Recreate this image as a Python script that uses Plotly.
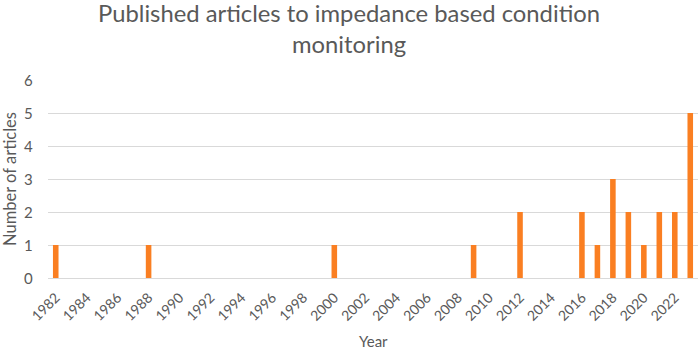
import plotly.graph_objects as go

years = list(range(1982, 2024))
counts_by_year = {1982: 1, 1988: 1, 2000: 1, 2009: 1, 2012: 2, 2016: 2, 2017: 1,
                  2018: 3, 2019: 2, 2020: 1, 2021: 2, 2022: 2, 2023: 5}
articles = [counts_by_year.get(y, 0) for y in years]
tick_years = list(range(1982, 2024, 2))
tick_labels = [str(y) for y in tick_years]
y_ticks = [0, 1, 2, 3, 4, 5, 6]

TXT = "#595959"
FONT = "Lato"
GRID = "#D9D9D9"
CLEAR = "rgba(0,0,0,0)"

fig = go.Figure(go.Bar(x=years, y=articles, width=0.36,
                       marker_color="#FA7F22", marker_line_width=0))

W, L, R, T, B, H = 699, 48, 1, 80, 73, 351
ph = H - T - B
pw = W - L - R

def py(pix):
    return (H - B - pix) / ph

def px(pix):
    return (pix - L) / pw

annotations = [
    dict(text="Published articles to impedance based condition", xref="paper", yref="paper",
         x=px(349), y=py(13), xanchor="center", yanchor="middle", showarrow=False,
         font=dict(size=23.8, color=TXT, family=FONT)),
    dict(text="monitoring", xref="paper", yref="paper",
         x=px(349), y=py(44), xanchor="center", yanchor="middle", showarrow=False,
         font=dict(size=23.8, color=TXT, family=FONT)),
    dict(text="Number of articles", xref="paper", yref="paper", textangle=-90,
         x=px(10), y=py(179), xanchor="center", yanchor="middle",
         showarrow=False, font=dict(size=16.5, color=TXT, family=FONT)),
    dict(text="Year", xref="paper", yref="paper",
         x=px(373), y=py(341), xanchor="center", yanchor="middle", showarrow=False,
         font=dict(size=15, color=TXT, family=FONT)),
]
for v in y_ticks:
    annotations.append(dict(text=str(v), xref="paper", yref="y", x=px(35), y=v,
                            xanchor="right", yanchor="middle", showarrow=False,
                            font=dict(size=15, color=TXT, family=FONT)))

fig.update_layout(
    width=W, height=H,
    margin=dict(l=L, r=R, t=T, b=B),
    paper_bgcolor="white", plot_bgcolor="white",
    showlegend=False,
    font=dict(family=FONT, color=TXT),
    annotations=annotations,
)
fig.update_xaxes(range=[1981.5, 2023.5], tickmode="array", tickvals=tick_years, ticktext=tick_labels,
                 tickangle=-45, tickfont=dict(size=14, color=TXT, family=FONT), showgrid=False,
                 showline=True, linecolor=GRID, linewidth=1, zeroline=False,
                 ticks="outside", ticklen=5, tickcolor=CLEAR, automargin=False)
fig.update_yaxes(range=[0, 6], tickmode="array", tickvals=y_ticks, showgrid=True,
                 gridcolor=GRID, gridwidth=1, zeroline=False, showticklabels=False,
                 ticks="", automargin=False)

fig.write_html("out.html", config={"displayModeBar": False},
               post_script="document.body.style.margin='0';document.body.style.padding='0';"
                           "document.documentElement.style.overflow='hidden';")
